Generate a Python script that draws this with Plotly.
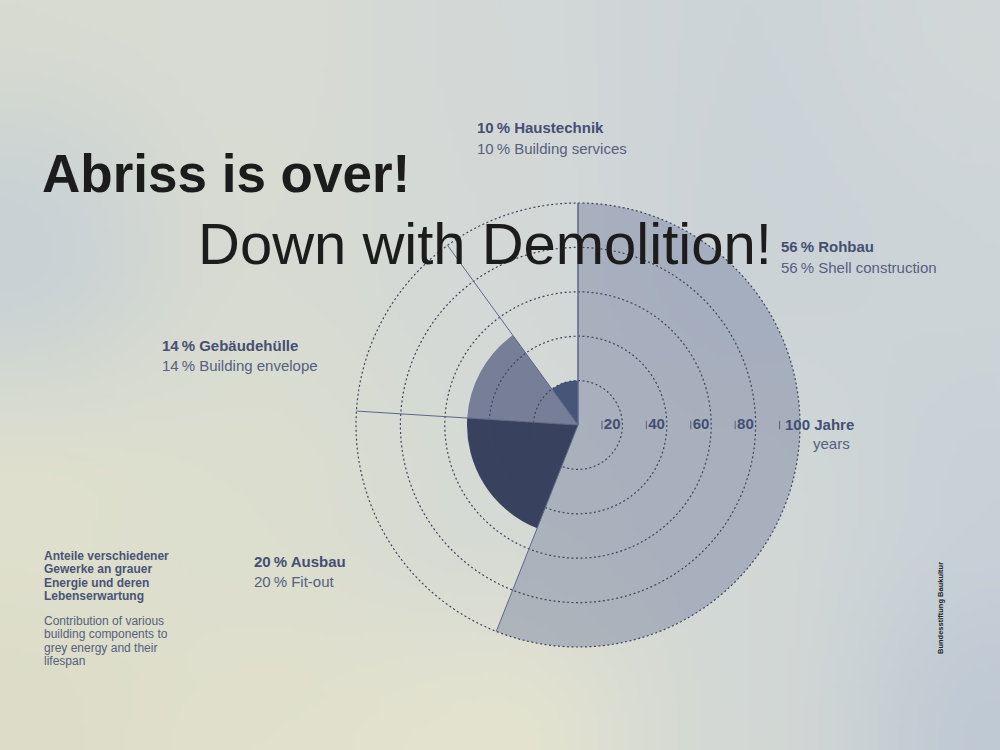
import base64, zlib, struct
import numpy as np
import plotly.graph_objects as go

# ---------------- data ----------------
components_de = ["Rohbau", "Ausbau", "Gebäudehülle", "Haustechnik"]
components_en = ["Shell construction", "Fit-out", "Building envelope", "Building services"]
shares = [56, 20, 14, 10]          # % of grey energy (angular span)
lifespans = [100, 50, 50, 20]      # years (radius)
ring_ticks = [20, 40, 60, 80, 100]
colors = ["rgba(118,128,160,0.45)", "#38425f", "#767e98", "#465678"]

# ---------------- background (soft gradient) ----------------
grid_hex = [
    ["#d8dbd1", "#d9dcd4", "#d3d8d7", "#cdd4d8", "#d2d8d8"],
    ["#c8d1d5", "#d8dbd2", "#d4d9d8", "#ccd3d8", "#ced5d8"],
    ["#dfe0cd", "#dcdecf", "#d6dad5", "#d2d8d6", "#c9d1d8"],
    ["#dcdcc8", "#e0e0cc", "#e3e3cf", "#d3d8d5", "#bfc9d4"],
]
g = np.array([[[int(h[i:i + 2], 16) for i in (1, 3, 5)] for h in row] for row in grid_hex], float)
W, H = 200, 150
ys = np.linspace(0, g.shape[0] - 1, H)
xs = np.linspace(0, g.shape[1] - 1, W)
y0 = np.clip(np.floor(ys).astype(int), 0, g.shape[0] - 2); fy = (ys - y0)[:, None, None]
x0 = np.clip(np.floor(xs).astype(int), 0, g.shape[1] - 2); fx = (xs - x0)[None, :, None]
fy = fy * fy * (3 - 2 * fy); fx = fx * fx * (3 - 2 * fx)
a = g[y0][:, x0]; b = g[y0][:, x0 + 1]; c = g[y0 + 1][:, x0]; d = g[y0 + 1][:, x0 + 1]
img = (a * (1 - fx) * (1 - fy) + b * fx * (1 - fy) + c * (1 - fx) * fy + d * fx * fy).astype(np.uint8)


def png_uri(arr):
    h, w, _ = arr.shape
    raw = b"".join(b"\x00" + arr[r].tobytes() for r in range(h))

    def chunk(t, data):
        return struct.pack(">I", len(data)) + t + data + struct.pack(">I", zlib.crc32(t + data) & 0xffffffff)

    png = b"\x89PNG\r\n\x1a\n" + chunk(b"IHDR", struct.pack(">IIBBBBB", w, h, 8, 2, 0, 0, 0)) \
        + chunk(b"IDAT", zlib.compress(raw, 9)) + chunk(b"IEND", b"")
    return "data:image/png;base64," + base64.b64encode(png).decode()


# ---------------- figure ----------------
FONT = "Liberation Sans, Arial, Helvetica, sans-serif"
LABEL_B = "#454f72"
LABEL_R = "#56607f"

fig = go.Figure()

deg = [s * 3.6 for s in shares]
starts = np.concatenate([[0], np.cumsum(deg)[:-1]])
centers = starts + np.array(deg) / 2

for i in range(len(shares)):
    fig.add_trace(go.Barpolar(
        r=[lifespans[i]], theta=[centers[i]], width=[deg[i]],
        marker=dict(color=colors[i], line=dict(width=0)),
        name=components_de[i], hoverinfo="skip", showlegend=False,
    ))

# dotted rings
theta_full = np.linspace(0, 360, 721)
for t in ring_ticks:
    fig.add_trace(go.Scatterpolar(
        r=[t] * len(theta_full), theta=theta_full, mode="lines",
        line=dict(color="#3f465c", width=1.2, dash="2px,2.5px"),
        hoverinfo="skip", showlegend=False,
    ))

# radial boundary lines
for ang in list(starts) + [starts[0] + 360 - 1e-9]:
    fig.add_trace(go.Scatterpolar(
        r=[0, ring_ticks[-1]], theta=[ang, ang], mode="lines",
        line=dict(color="#5d6787", width=1),
        hoverinfo="skip", showlegend=False,
    ))

# ring tick labels (numbers) and tiny tick marks
fig.add_trace(go.Scatterpolar(
    r=[t - 4.6 for t in ring_ticks[:-1]], theta=[90] * (len(ring_ticks) - 1),
    mode="text", text=[str(t) for t in ring_ticks[:-1]],
    textfont=dict(family=FONT, size=15, color=LABEL_B, weight="bold"),
    textposition="middle center", hoverinfo="skip", showlegend=False,
))
fig.add_trace(go.Scatterpolar(
    r=[t - 9.2 for t in ring_ticks], theta=[90] * len(ring_ticks),
    mode="markers", marker=dict(symbol="line-ns", size=6, line=dict(width=1, color=LABEL_R)),
    hoverinfo="skip", showlegend=False,
))

# polar domain: centre (578, 425) px, r=100 at 222 px; range padded so the outer ring isn't clipped
RMAX = ring_ticks[-1] * 1.03
cx, cy = 578, 425
R = 222 * RMAX / ring_ticks[-1]
fig.update_layout(
    polar=dict(
        domain=dict(x=[(cx - R) / 1000, (cx + R) / 1000], y=[1 - (cy + R) / 750, 1 - (cy - R) / 750]),
        bgcolor="rgba(0,0,0,0)",
        radialaxis=dict(range=[0, RMAX], visible=False, showgrid=False),
        angularaxis=dict(rotation=90, direction="clockwise", visible=False, showgrid=False),
        bargap=0,
    ),
)


def px(x, y):
    return x / 1000, 1 - y / 750


ann = []


def add_text(x, y, text, size, color, bold=False, anchor="left", angle=0):
    xx, yy = px(x, y)
    ann.append(dict(x=xx, y=yy, xref="paper", yref="paper", text=text, showarrow=False,
                    xanchor=anchor, yanchor="middle", textangle=angle,
                    font=dict(family=FONT, size=size, color=color,
                              weight="bold" if bold else "normal")))


# titles
add_text(40, 173, "Abriss is over!", 53, "#1c1c1c", bold=True)
add_text(196, 243, "Down with Demolition!", 58, "#1c1c1c")

# segment labels
label_pos = {
    "Rohbau": (779, 247),
    "Ausbau": (252, 561),
    "Gebäudehülle": (160, 345),
    "Haustechnik": (475, 128),
}
for i, name in enumerate(components_de):
    x, y = label_pos[name]
    add_text(x, y, f"{shares[i]}\u2009% {name}", 15, LABEL_B, bold=True)
    add_text(x, y + 20, f"{shares[i]}\u2009% {components_en[i]}", 15, LABEL_R)

# outer tick label
add_text(783, 424, f"{ring_ticks[-1]} Jahre", 15, LABEL_B, bold=True)
add_text(852, 443, "years", 15, LABEL_R, anchor="right")

# description block
desc_de = ["Anteile verschiedener", "Gewerke an grauer", "Energie und deren", "Lebenserwartung"]
desc_en = ["Contribution of various", "building components to", "grey energy and their", "lifespan"]
for k, line in enumerate(desc_de):
    add_text(42, 556 + k * 13.3, line, 12, "#4a5376", bold=True)
for k, line in enumerate(desc_en):
    add_text(42, 621 + k * 13.3, line, 12, LABEL_R)

# credit
add_text(940, 608, "Bundesstiftung Baukultur", 7.5, "#222222", bold=True, anchor="center", angle=-90)

fig.update_layout(
    width=1000, height=750,
    margin=dict(l=0, r=0, t=0, b=0),
    paper_bgcolor="#d6dad4", plot_bgcolor="rgba(0,0,0,0)",
    annotations=ann, showlegend=False,
    images=[dict(source=png_uri(img), xref="paper", yref="paper", x=0, y=1, sizex=1, sizey=1,
                 sizing="stretch", layer="below", xanchor="left", yanchor="top")],
)

fig.write_html(
    "out.html",
    config={"displayModeBar": False},
    post_script="document.body.style.margin='0';document.body.style.overflow='hidden';",
)
